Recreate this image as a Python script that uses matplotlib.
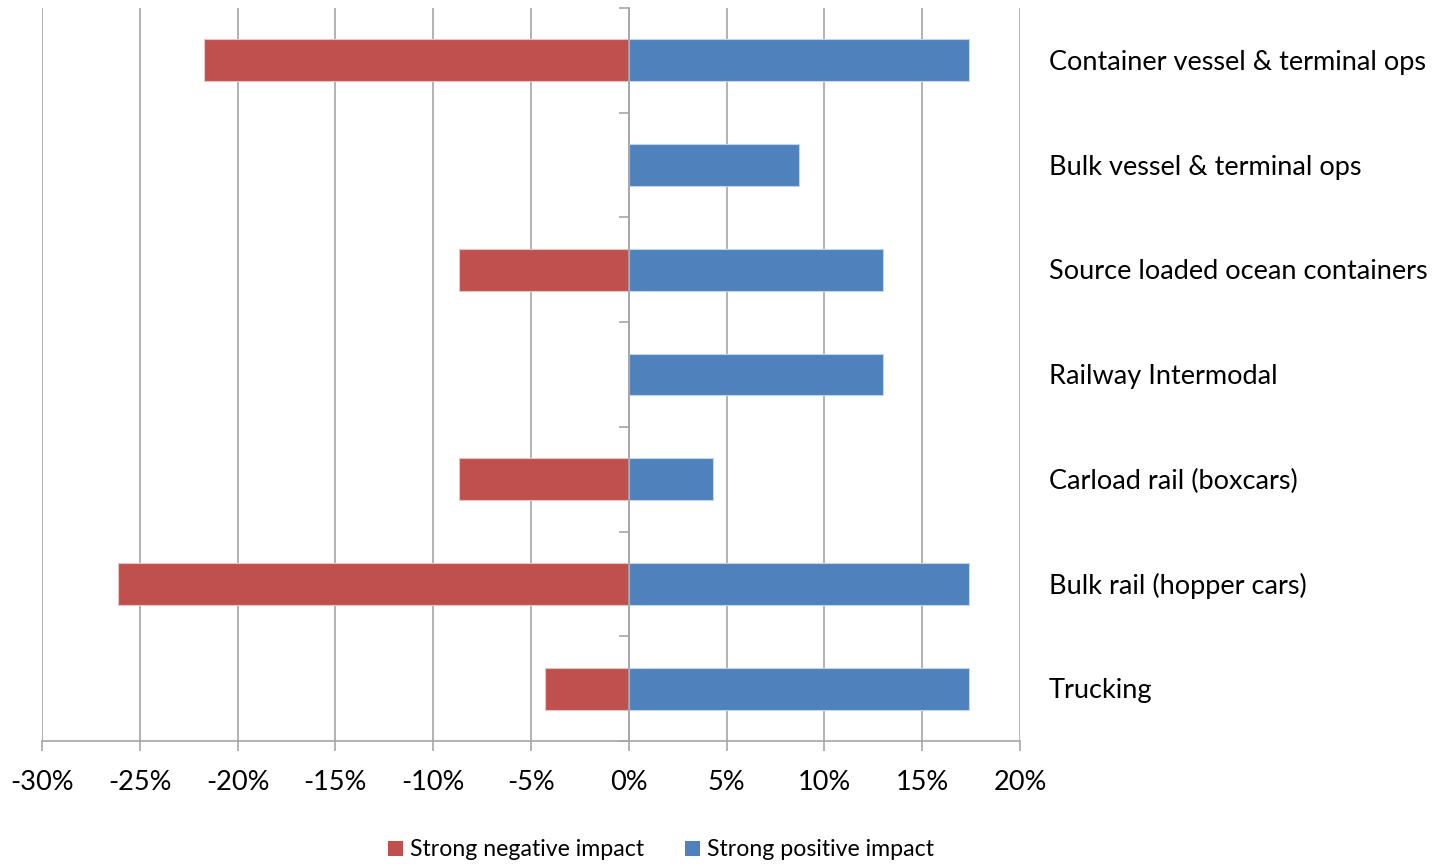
import matplotlib
matplotlib.use("Agg")
import matplotlib.pyplot as plt
from matplotlib.patches import Patch
from matplotlib.ticker import MultipleLocator, FuncFormatter

plt.rcParams['font.family'] = ['Lato', 'DejaVu Sans']

categories = [
    "Container vessel & terminal ops",
    "Bulk vessel & terminal ops",
    "Source loaded ocean containers",
    "Railway Intermodal",
    "Carload rail (boxcars)",
    "Bulk rail (hopper cars)",
    "Trucking",
]
negative = [-21.7, 0.0, -8.7, 0.0, -8.7, -26.1, -4.3]
positive = [17.4, 8.7, 13.0, 13.0, 4.3, 17.4, 17.4]
series_names = ["Strong negative impact", "Strong positive impact"]
colors = ["#C0504D", "#4F81BD"]

W, H = 1436, 864
fig = plt.figure(figsize=(W / 100, H / 100), dpi=100)
ax = fig.add_axes([42 / W, 1 - 741 / H, (1020 - 42) / W, (741 - 8) / H])

pos = list(range(len(categories)))
ax.barh(pos, negative, height=0.4, color=colors[0], edgecolor="#e6c4c3", linewidth=0.8, zorder=3)
ax.barh(pos, positive, height=0.4, color=colors[1], edgecolor="#c5d3e6", linewidth=0.8, zorder=3)

ax.set_xlim(-30, 20)
ax.set_ylim(len(categories) - 0.5, -0.5)

grid_col = "#a6a6a6"
ax.xaxis.set_major_locator(MultipleLocator(5))
ax.xaxis.set_major_formatter(FuncFormatter(lambda v, p: f"{v:.0f}%"))
ax.grid(axis="x", color=grid_col, linewidth=1.2, zorder=0)
ax.tick_params(axis="x", length=7.5, width=1.2, color=grid_col, pad=13.5,
               labelsize=19.5, labelcolor="#000000")

# value axis crosses at 0%, with ticks between categories
for s in ["top", "right"]:
    ax.spines[s].set_visible(False)
ax.spines["left"].set_position(("data", 0))
ax.spines["left"].set_color(grid_col)
ax.spines["left"].set_linewidth(1.2)
ax.spines["left"].set_zorder(4)
ax.spines["bottom"].set_color(grid_col)
ax.spines["bottom"].set_linewidth(1.2)
ax.set_yticks([i - 0.5 for i in range(len(categories) + 1)])
ax.set_yticklabels([])
ax.tick_params(axis="y", length=7.5, width=1.2, color=grid_col, direction="out")

# category names to the right of the plot
for i, name in enumerate(categories):
    ax.annotate(name, xy=(1, i), xycoords=("axes fraction", "data"),
                xytext=(29 * 0.72, -1.5), textcoords="offset points",
                ha="left", va="center", fontsize=19.5, color="#000000")

handles = [Patch(facecolor=c, edgecolor="none") for c in colors]
fig.legend(handles, series_names, loc="center", bbox_to_anchor=(661 / W, 1 - 850 / H),
           ncol=2, frameon=False, fontsize=16.7, handlelength=0.65, handleheight=0.65,
           handletextpad=0.3, columnspacing=1.77)

fig.savefig("out.png", dpi=100)
